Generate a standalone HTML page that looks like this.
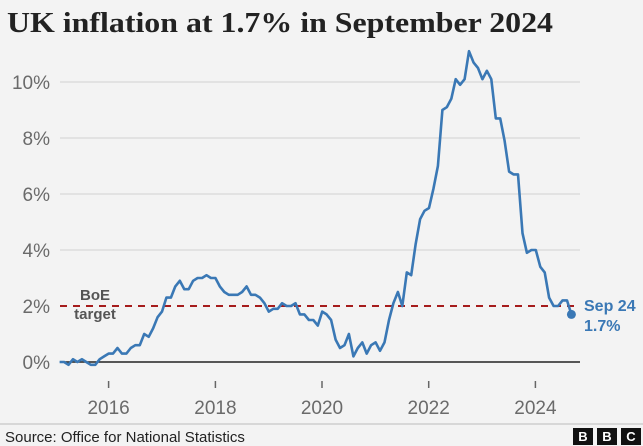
<!DOCTYPE html>
<html><head><meta charset="utf-8"><style>
html,body{margin:0;padding:0;background:#f3f3f3;}
svg{display:block;}
text{font-family:"Liberation Sans",sans-serif;}
</style></head><body>
<svg width="643" height="446" viewBox="0 0 643 446" xmlns="http://www.w3.org/2000/svg">
<rect width="643" height="446" fill="#f3f3f3"/>
<text x="7" y="32" textLength="546" lengthAdjust="spacingAndGlyphs" style="font-family:'Liberation Serif',serif;font-weight:bold;font-size:28px" fill="#222">UK inflation at 1.7% in September 2024</text>
<g stroke="#d2d2d2" stroke-width="1">
<line x1="60" x2="580" y1="82" y2="82"/><line x1="60" x2="580" y1="138" y2="138"/>
<line x1="60" x2="580" y1="194" y2="194"/><line x1="60" x2="580" y1="250" y2="250"/>
</g>
<g fill="#6a6a6a" font-size="19" text-anchor="end">
<text x="50" y="89">10%</text><text x="50" y="145">8%</text><text x="50" y="201">6%</text>
<text x="50" y="257">4%</text><text x="50" y="313">2%</text><text x="50" y="369">0%</text>
</g>
<line x1="60" x2="580" y1="362" y2="362" stroke="#222" stroke-width="1.5"/>
<line x1="60" x2="580" y1="306" y2="306" stroke="#a51c1c" stroke-width="2" stroke-dasharray="7,6"/>
<g stroke="#666" stroke-width="1.5">
<line x1="108.6" x2="108.6" y1="381" y2="388"/><line x1="215.4" x2="215.4" y1="381" y2="388"/>
<line x1="322" x2="322" y1="381" y2="388"/><line x1="428.7" x2="428.7" y1="381" y2="388"/>
<line x1="535.4" x2="535.4" y1="381" y2="388"/>
</g>
<g fill="#6a6a6a" font-size="19" text-anchor="middle">
<text x="108.6" y="414">2016</text><text x="215.4" y="414">2018</text><text x="322" y="414">2020</text>
<text x="428.7" y="414">2022</text><text x="535.4" y="414">2024</text>
</g>
<g fill="#555" font-size="15" font-weight="bold" text-anchor="middle">
<text x="95" y="300">BoE</text><text x="95" y="319">target</text>
</g>
<polyline id="l" fill="none" stroke="#3a78b5" stroke-width="2.6" stroke-linejoin="round" points=""/>
<circle cx="571.4" cy="314.4" r="4.5" fill="#3a78b5"/>
<g fill="#3a78b5" font-size="16" font-weight="bold">
<text x="584" y="311">Sep 24</text><text x="584" y="331">1.7%</text>
</g>
<line x1="0" x2="643" y1="424" y2="424" stroke="#bbb" stroke-width="1"/>
<text x="5" y="442" font-size="15" fill="#222">Source: Office for National Statistics</text>
<g>
<rect x="573" y="428" width="20" height="17" fill="#111"/><rect x="597" y="428" width="20" height="17" fill="#111"/><rect x="621" y="428" width="20" height="17" fill="#111"/>
<g fill="#fff" font-size="13" font-weight="bold" text-anchor="middle"><text x="583" y="441">B</text><text x="607" y="441">B</text><text x="631" y="441">C</text></g>
</g>
</svg>
<script>
var d=[0.0,0.0,-0.1,0.1,0.0,0.1,0.0,-0.1,-0.1,0.1,0.2,
0.3,0.3,0.5,0.3,0.3,0.5,0.6,0.6,1.0,0.9,1.2,1.6,
1.8,2.3,2.3,2.7,2.9,2.6,2.6,2.9,3.0,3.0,3.1,3.0,
3.0,2.7,2.5,2.4,2.4,2.4,2.5,2.7,2.4,2.4,2.3,2.1,
1.8,1.9,1.9,2.1,2.0,2.0,2.1,1.7,1.7,1.5,1.5,1.3,
1.8,1.7,1.5,0.8,0.5,0.6,1.0,0.2,0.5,0.7,0.3,0.6,
0.7,0.4,0.7,1.5,2.1,2.5,2.0,3.2,3.1,4.2,5.1,5.4,
5.5,6.2,7.0,9.0,9.1,9.4,10.1,9.9,10.1,11.1,10.7,10.5,
10.1,10.4,10.1,8.7,8.7,7.9,6.8,6.7,6.7,4.6,3.9,4.0,
4.0,3.4,3.2,2.3,2.0,2.0,2.2,2.2,1.7];
var p=[];for(var i=0;i<d.length;i++){var m=i-11;p.push((108.6+m*4.45).toFixed(1)+","+(362-28*d[i]).toFixed(1));}
document.getElementById("l").setAttribute("points",p.join(" "));
</script>
</body></html>
